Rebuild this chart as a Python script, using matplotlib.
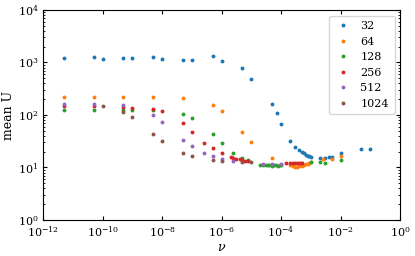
import matplotlib
matplotlib.use("Agg")
import matplotlib.pyplot as plt
from matplotlib.ticker import LogLocator, NullFormatter

plt.rcParams['font.family'] = ['DejaVu Serif']
plt.rcParams['mathtext.fontset'] = 'dejavuserif'

labels = ['32', '64', '128', '256', '512', '1024']

nu_32 = [5e-12, 5e-11, 1e-10, 5e-10, 1e-9, 5e-9, 1e-8, 5e-8, 1e-7, 5e-7, 1e-6, 5e-6, 1e-5,
         5e-5, 7.5e-5, 1e-4, 2e-4, 3e-4, 4e-4, 5e-4, 6e-4, 7e-4, 8e-4, 9e-4, 1e-3,
         2e-3, 3e-3, 4e-3, 5e-3, 1e-2, 5e-2, 1e-1]
U_32 = [1230, 1250, 1170, 1220, 1200, 1250, 1180, 1130, 1130, 1300, 1080, 785, 490,
        160, 111, 66, 32.4, 25, 21.5, 19.7, 18.6, 17.5, 16.8, 16.3, 16.1,
        15.0, 15.3, 15.6, 16.0, 18.7, 22.2, 22.4]

nu_64 = [5e-12, 5e-11, 5e-10, 5e-9, 5e-8, 5e-7, 1e-6, 5e-6, 1e-5, 5e-5,
         2e-4, 2.5e-4, 3e-4, 3.5e-4, 4e-4, 5e-4, 6e-4, 7e-4, 8e-4, 9e-4, 1e-3,
         2.5e-3, 5e-3, 1e-2]
U_64 = [220, 220, 220, 222, 208, 153, 117, 46.8, 30, 15,
        11.0, 10.5, 10.3, 10.4, 10.5, 10.7, 11.0, 11.4, 11.8, 12.2, 12.5,
        14.2, 14.5, 16.8]

nu_128 = [5e-12, 5e-11, 5e-10, 1e-9, 5e-9, 5e-8, 1e-7, 5e-7, 1e-6, 2.5e-6, 5e-6, 7.5e-6,
          2e-5, 2.5e-5, 3e-5, 3.5e-5, 4e-5, 5e-5, 6e-5, 7e-5, 8e-5, 9e-5, 1e-4,
          1e-3, 2e-3, 3e-3, 1e-2]
U_128 = [125, 125, 124, 124, 124, 102, 89, 44, 29, 18.9, 15, 13.8,
         11.2, 11.0, 11.1, 10.9, 11.0, 10.8, 11.0, 10.9, 10.8, 11.0, 11.2,
         12.8, 12.9, 12.4, 13.8]

nu_256 = [5e-12, 5e-11, 5e-10, 1e-9, 5e-9, 1e-8, 5e-8, 1e-7, 2.5e-7, 5e-7, 1e-6,
          2e-6, 2.5e-6, 3e-6, 4e-6, 5e-6, 6e-6, 8e-6,
          1.5e-4, 2e-4, 2.5e-4, 3e-4, 3.5e-4, 4e-4, 4.5e-4, 5e-4]
U_256 = [145, 145, 140, 136, 130, 119, 71, 48, 29.5, 23.2, 18.6,
         15.5, 15.2, 14.7, 14.2, 13.8, 13.5, 13.1,
         12.0, 11.9, 12.0, 11.9, 12.0, 12.1, 12.0, 12.2]

nu_512 = [5e-12, 5e-11, 5e-10, 5e-9, 1e-8, 5e-8, 1e-7, 2.5e-7, 5e-7, 1e-6, 2.5e-6,
          2.5e-5, 5e-5, 1e-4]
U_512 = [162, 162, 153, 99, 72, 33, 25.8, 19, 16.3, 14.4, 13.5,
         11.8, 11.8, 11.8]

nu_1024 = [1e-10, 5e-10, 1e-9, 5e-9, 1e-8, 5e-8, 1e-7, 5e-7, 1e-6, 5e-6, 1e-5]
U_1024 = [150, 114, 90, 43, 31.6, 18.6, 16.6, 13.9, 13.2, 12.7, 12.6]

series = [(nu_32, U_32), (nu_64, U_64), (nu_128, U_128),
          (nu_256, U_256), (nu_512, U_512), (nu_1024, U_1024)]

fig = plt.figure(figsize=(4.15, 2.56), dpi=100)
ax = fig.add_axes([0.104, 0.141, 0.860, 0.820])

for (x, y), lab in zip(series, labels):
    ax.plot(x, y, 'o', markersize=1.8, label=lab)

ax.set_xscale('log')
ax.set_yscale('log')
ax.set_xlim(1e-12, 1e0)
ax.set_ylim(1e0, 1e4)
ax.xaxis.set_major_locator(LogLocator(base=10, numticks=7))
ax.xaxis.set_minor_locator(LogLocator(base=10, subs=[], numticks=7))
ax.yaxis.set_minor_locator(LogLocator(base=10, subs=range(2, 10), numticks=20))
ax.yaxis.set_minor_formatter(NullFormatter())

ax.tick_params(which='both', direction='in', top=True, right=True, labelsize=8)
ax.tick_params(which='major', length=3)
ax.tick_params(which='minor', length=1.5)
for s in ax.spines.values():
    s.set_linewidth(0.8)

ax.set_xlabel(r'$\nu$', fontsize=9, labelpad=1)
ax.set_ylabel('mean U', fontsize=9, labelpad=2)
ax.legend(loc='upper right', fontsize=8, markerscale=1.0, handlelength=1.5,
          labelspacing=0.5, borderpad=0.5)

fig.savefig('out.png', dpi=100)
